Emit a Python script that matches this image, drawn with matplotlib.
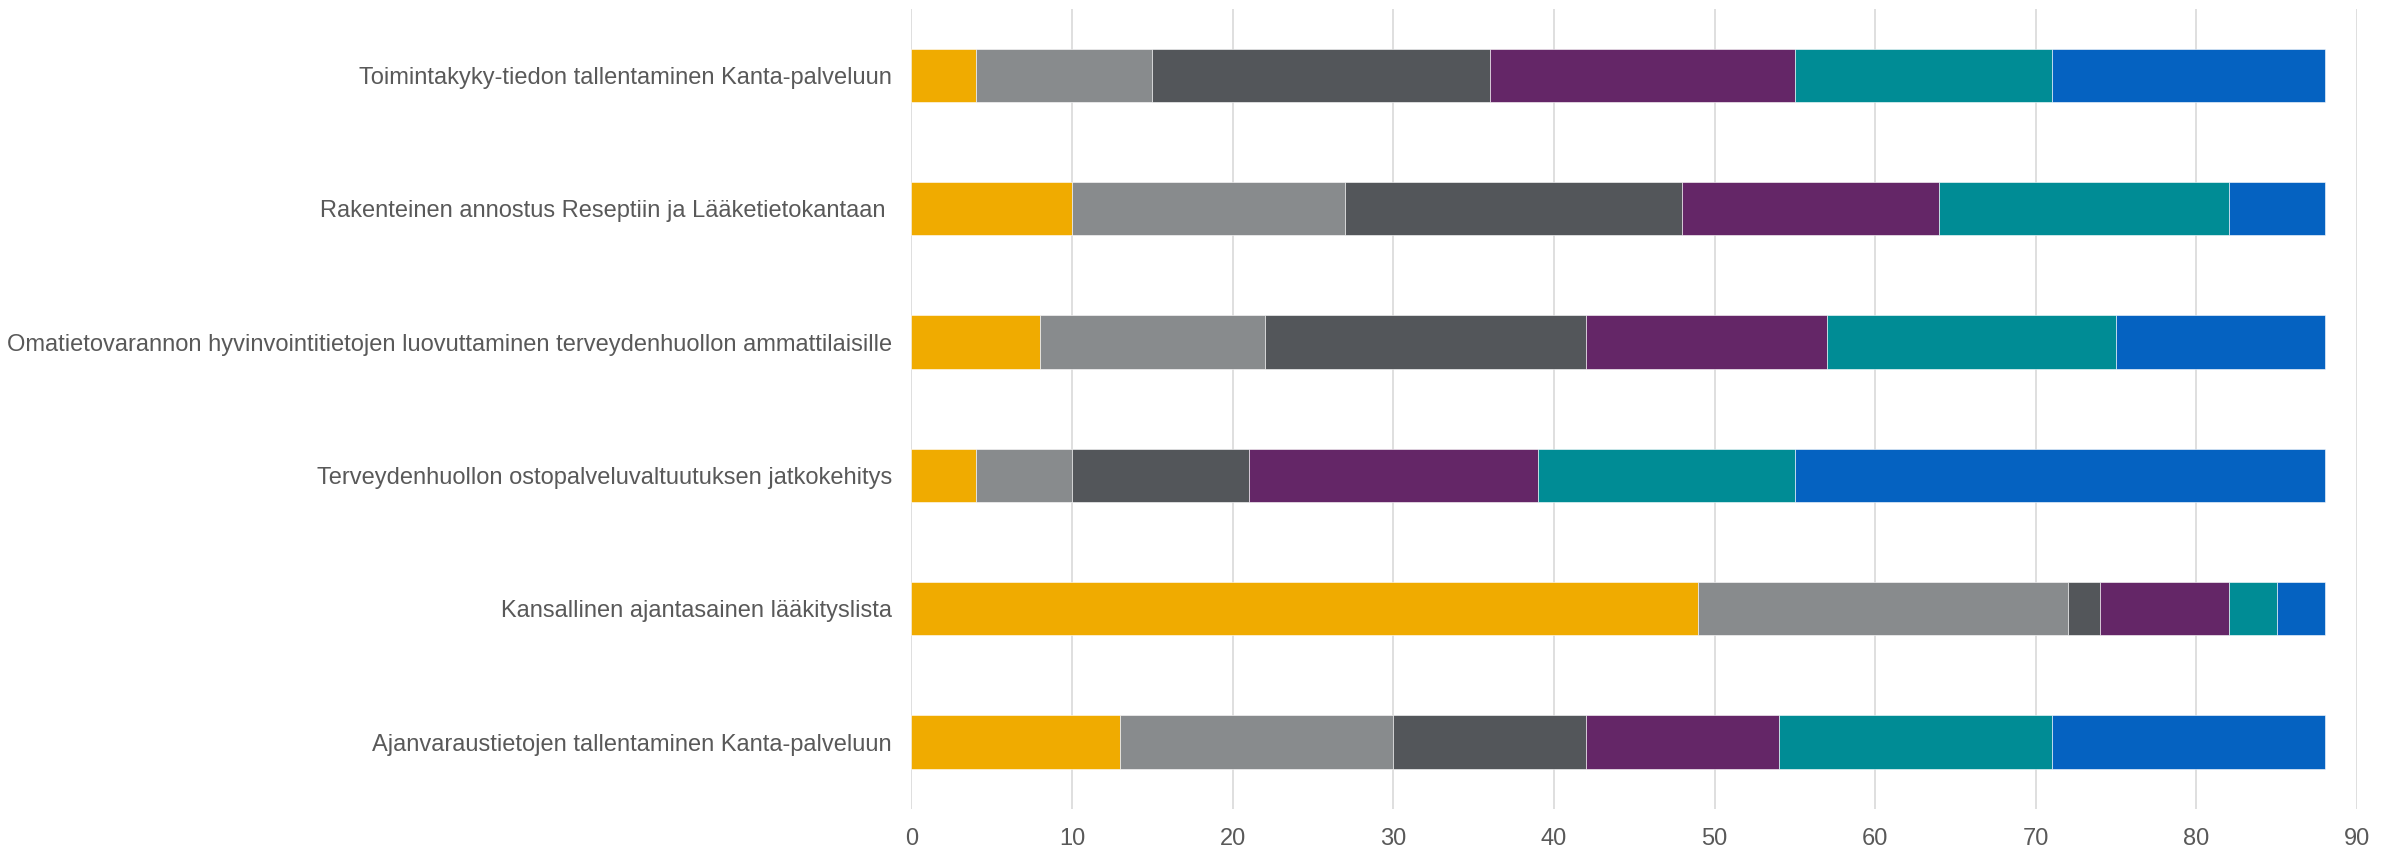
import matplotlib
matplotlib.use("Agg")
import matplotlib.pyplot as plt
import numpy as np

categories = [
    "Toimintakyky-tiedon tallentaminen Kanta-palveluun",
    "Rakenteinen annostus Reseptiin ja Lääketietokantaan ",
    "Omatietovarannon hyvinvointitietojen luovuttaminen terveydenhuollon ammattilaisille",
    "Terveydenhuollon ostopalveluvaltuutuksen jatkokehitys",
    "Kansallinen ajantasainen lääkityslista",
    "Ajanvaraustietojen tallentaminen Kanta-palveluun",
]
s1 = [4, 10, 8, 4, 49, 13]
s2 = [11, 17, 14, 6, 23, 17]
s3 = [21, 21, 20, 11, 2, 12]
s4 = [19, 16, 15, 18, 8, 12]
s5 = [16, 18, 18, 16, 3, 17]
s6 = [17, 6, 13, 33, 3, 17]
series = [s1, s2, s3, s4, s5, s6]
colors = ["#F0AB00", "#888B8D", "#53565A", "#642667", "#008C95", "#0562C1"]
xticks = [0, 10, 20, 30, 40, 50, 60, 70, 80, 90]

plt.rcParams['font.family'] = ['Liberation Sans Narrow', 'Liberation Sans', 'DejaVu Sans']

fig = plt.figure(figsize=(23.92, 8.55), dpi=100)
ax = fig.add_axes([0.381, 0.054, 0.6044, 0.936])

y = np.arange(len(categories))
left = np.zeros(len(categories))
for vals, c in zip(series, colors):
    ax.barh(y, vals, left=left, height=0.4, color=c, edgecolor='white', linewidth=0.4, zorder=3)
    left += np.array(vals)

ax.set_ylim(len(categories) - 0.5, -0.5)
ax.set_xlim(0, 90)
ax.set_xticks(xticks)
ax.set_yticks(y)
ax.set_yticklabels(categories)
ax.grid(axis='x', color='#D9D9D9', linewidth=1.2, zorder=0)
for sp in ax.spines.values():
    sp.set_visible(False)
ax.tick_params(axis='both', length=0, colors='#595959', labelsize=17)
ax.tick_params(axis='x', pad=14)
ax.tick_params(axis='y', pad=14)

fig.savefig("out.png", dpi=100, facecolor='white')
